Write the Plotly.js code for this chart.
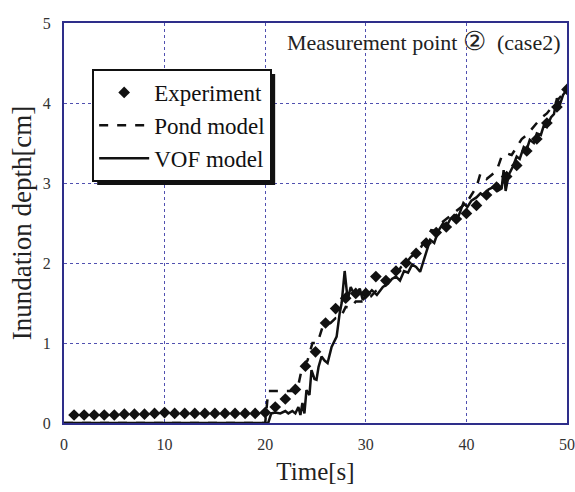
<!DOCTYPE html>
<html>
<head>
<meta charset="utf-8">
<script src="https://cdn.plot.ly/plotly-3.0.1.min.js"></script>
<style>html,body{margin:0;padding:0;background:#fff;}#chart{width:575px;height:492px;}</style>
</head>
<body>
<div id="chart"></div>
<script>
// Experiment (diamonds), every 1 s
const expTime = [1,2,3,4,5,6,7,8,9,10,11,12,13,14,15,16,17,18,19,20,21,22,23,24,25,26,27,28,29,30,31,32,33,34,35,36,37,38,39,40,41,42,43,44,45,46,47,48,49,50];
const expDepth = [0.10,0.10,0.10,0.10,0.10,0.11,0.11,0.11,0.12,0.13,0.12,0.12,0.12,0.12,0.12,0.12,0.12,0.12,0.12,0.13,0.20,0.30,0.42,0.71,0.89,1.25,1.43,1.56,1.62,1.62,1.83,1.78,1.90,2.00,2.12,2.25,2.38,2.45,2.55,2.62,2.72,2.85,2.95,3.08,3.22,3.40,3.55,3.75,3.95,4.17];

// Pond model (dashed)
const pondTime = [0,20,20.3,23,23.2,23.7,24.2,24.7,25.2,25.7,26.5,27,27.5,28,28.5,29,29.6,30,30.5,31,31.5,32,32.5,33,33.5,34,34.5,35,35.5,36,36.5,37,37.5,38,38.5,39,39.5,40,40.5,41,41.4,42,42.5,43,43.5,44,44.5,45,45.5,46,46.5,47,47.5,48,48.5,49,49.5,50];
const pondDepth = [0,0,0.40,0.40,0.42,0.71,0.78,1.00,1.00,1.20,1.25,1.31,1.32,1.45,1.44,1.52,1.52,1.55,1.58,1.65,1.68,1.72,1.82,1.85,1.95,2.00,2.08,2.12,2.20,2.30,2.41,2.40,2.50,2.55,2.60,2.65,2.70,2.75,2.85,2.95,3.12,3.05,3.10,3.15,3.33,3.37,3.35,3.45,3.55,3.60,3.68,3.75,3.82,3.87,3.95,4.02,4.10,4.15];

// VOF model (solid)
const vofTime = [0,20.3,20.6,21,21.5,22,22.3,22.7,23,23.3,23.5,23.7,23.9,24.1,24.4,24.6,24.9,25.1,25.3,25.6,25.9,26.2,26.6,27.1,27.4,27.6,27.9,28.2,28.5,28.8,29.1,29.4,29.7,30.2,30.6,31.1,31.7,32.2,32.6,33,33.4,33.8,34.2,34.6,35,35.4,35.8,36.1,36.4,36.8,37.2,37.7,38,38.4,38.8,39.2,39.7,40.1,40.5,41,41.4,41.8,42.2,42.7,43.1,43.5,43.7,43.9,44.2,44.6,45,45.3,45.7,46,46.3,46.7,47,47.4,47.7,48,48.4,48.7,49,49.3,49.6,50];
const vofDepth = [0,0,0.12,0.13,0.12,0.15,0.12,0.15,0.12,0.20,0.10,0.25,0.12,0.41,0.35,0.66,0.55,0.54,0.70,0.83,0.78,0.75,0.95,1.08,1.37,1.50,1.90,1.54,1.70,1.62,1.60,1.68,1.54,1.60,1.66,1.60,1.70,1.74,1.80,1.83,1.78,1.90,1.88,1.98,1.95,1.89,2.05,2.16,2.29,2.25,2.40,2.50,2.45,2.55,2.60,2.58,2.75,2.70,2.78,2.82,2.87,2.84,2.92,2.95,2.90,2.93,3.16,2.90,3.10,3.20,3.33,3.30,3.45,3.42,3.54,3.50,3.62,3.60,3.72,3.70,3.82,3.86,4.06,3.98,4.10,4.17];

const xTicks = [0,10,20,30,40,50];
const yTicks = [0,1,2,3,4,5];

const font = 'Liberation Serif, Times New Roman, serif';
const axisCol = '#2e2e8a';
const gridCol = '#5050b0';

const traces = [
  {x: expTime, y: expDepth, name: 'Experiment', mode: 'markers', type: 'scatter',
   marker: {symbol: 'diamond', size: 9, color: '#111'}},
  {x: pondTime, y: pondDepth, name: 'Pond model', mode: 'lines', type: 'scatter',
   line: {color: '#111', width: 2.5, dash: 'dash'}},
  {x: vofTime, y: vofDepth, name: 'VOF model', mode: 'lines', type: 'scatter',
   line: {color: '#111', width: 2.5}}
];

const layout = {
  width: 575, height: 492,
  margin: {l: 64, r: 8, t: 23, b: 69},
  paper_bgcolor: '#fff', plot_bgcolor: '#fff',
  font: {family: font, color: '#222', size: 15},
  showlegend: true,
  legend: {x: 0.056, y: 0.885, xanchor: 'left', yanchor: 'top',
    bgcolor: '#fff', bordercolor: '#111', borderwidth: 2, itemwidth: 50,
    font: {family: font, size: 23, color: '#111'}, tracegroupgap: 0},
  xaxis: {range: [0, 50], tickvals: xTicks, ticktext: xTicks.map(String),
    showline: true, linecolor: axisCol, linewidth: 2, mirror: true,
    showgrid: true, gridcolor: gridCol, griddash: 'dot', gridwidth: 1,
    zeroline: false, ticks: '', ticklabelstandoff: 6,
    tickfont: {family: font, size: 16, color: '#333'},
    title: {text: 'Time[s]', font: {family: font, size: 25, color: '#222'}, standoff: 10}},
  yaxis: {range: [0, 5], tickvals: yTicks, ticktext: yTicks.map(String),
    showline: true, linecolor: axisCol, linewidth: 2, mirror: true,
    showgrid: true, gridcolor: gridCol, griddash: 'dot', gridwidth: 1,
    zeroline: false, ticks: '', ticklabelstandoff: 8,
    tickfont: {family: font, size: 16, color: '#333'},
    title: {text: 'Inundation depth[cm]', font: {family: font, size: 27, color: '#222'}, standoff: 3}},
  annotations: [{xref: 'paper', yref: 'paper', x: 0.99, y: 0.955, xanchor: 'right', yanchor: 'middle',
    showarrow: false, text: 'Measurement point <span style="font-size:26px">\u2461</span>  (case2)',
    font: {family: font, size: 22, color: '#222'}}],
  shapes: []
};

Plotly.newPlot('chart', traces, layout, {displayModeBar: false, staticPlot: true}).then(function (gd) {
  // drop shadow behind the legend box, placed from the legend's rendered size
  const bg = gd.querySelector('.legend .bg');
  const fl = gd._fullLayout;
  if (!bg) return;
  const r = bg.getBoundingClientRect();
  const c = gd.getBoundingClientRect();
  const off = 4;
  const px2x = function (px) { return (px - c.left - fl.margin.l) / fl._size.w; };
  const px2y = function (py) { return 1 - (py - c.top - fl.margin.t) / fl._size.h; };
  return Plotly.relayout(gd, {shapes: [{type: 'rect', xref: 'paper', yref: 'paper', layer: 'above',
    x0: px2x(r.left + off), x1: px2x(r.right + off), y0: px2y(r.top + off), y1: px2y(r.bottom + off),
    fillcolor: '#111', line: {width: 0}}]});
});
</script>
</body>
</html>
